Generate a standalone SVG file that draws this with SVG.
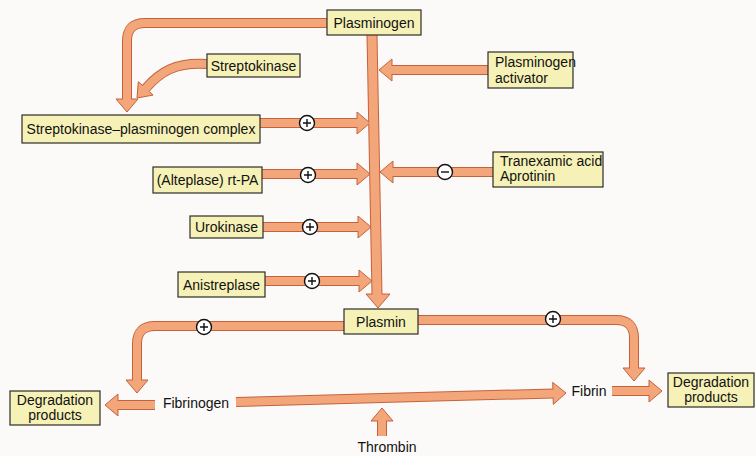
<svg xmlns="http://www.w3.org/2000/svg" width="756" height="456" viewBox="0 0 756 456">
  <style>
    .bg { fill: #fbfaf8; }
    .box { fill: #f6f1b6; stroke: #2e2e26; stroke-width: 1.2; }
    .lbl { font-family: "Liberation Sans", Arial, sans-serif; font-size: 14px; fill: #111; }
    .c { text-anchor: middle; }
    .sh-o { fill: none; stroke: #c5623c; stroke-width: 10; stroke-linejoin: round; }
    .sh-i { fill: none; stroke: #f3a67a; stroke-width: 8; stroke-linejoin: round; }
    .head { fill: #f3a67a; stroke: #c5623c; stroke-width: 1; stroke-linejoin: miter; }
    .sign { fill: #ffffff; stroke: #111; stroke-width: 1.4; }
    .sym { fill: none; stroke: #111; stroke-width: 1.4; }
  </style>
  <rect class="bg" x="0" y="0" width="756" height="456"/>

  <!-- connectors: outlined shafts, heads, then inner fill over the joins -->
  <g id="connectors">
    <g class="outer">
      <path class="sh-o" d="M327,23 H145 Q127,23 127,41 V100"/>
      <path class="sh-o" d="M207,64 C175,62 160,72 146,88"/>
      <path class="sh-o" d="M488,70 H391"/>
      <path class="sh-o" d="M493,172 H392"/>
      <path class="sh-o" d="M260,123 H357"/>
      <path class="sh-o" d="M262,174 H357"/>
      <path class="sh-o" d="M263,227 H358"/>
      <path class="sh-o" d="M265,281 H359"/>
      <path class="sh-o" d="M372,35 L377,295" style="stroke-width:11"/>
      <path class="sh-o" d="M344,326 H155 Q137,326 137,344 V381"/>
      <path class="sh-o" d="M418,320 H616 Q634,320 634,338 V369"/>
      <path class="sh-o" d="M155,405 H117"/>
      <path class="sh-o" d="M236,402 L554,393.4"/>
      <path class="sh-o" d="M612,391 H649"/>
      <path class="sh-o" d="M382,436 V420"/>
    </g>
    <g class="heads">
      <polygon class="head" points="116,99 138,99 127,112"/>
      <polygon class="head" points="153.1,95.1 138.3,81.7 137,98"/>
      <polygon class="head" points="392,59 392,81 379,70"/>
      <polygon class="head" points="393,161 393,183 380,172"/>
      <polygon class="head" points="357,112 357,134 370,123"/>
      <polygon class="head" points="357,163 357,185 370,174"/>
      <polygon class="head" points="358,216 358,238 371,227"/>
      <polygon class="head" points="359,270 359,292 372,281"/>
      <polygon class="head" points="366,294 390,294 378,308"/>
      <polygon class="head" points="126,380 148,380 137,393"/>
      <polygon class="head" points="623,368 645,368 634,381"/>
      <polygon class="head" points="118,394 118,416 105,405"/>
      <polygon class="head" points="553.3,404.4 552.7,382.4 566,393"/>
      <polygon class="head" points="649,380 649,402 662,391"/>
      <polygon class="head" points="371,421 393,421 382,408"/>
    </g>
    <g class="inner">
      <path class="sh-i" d="M327,23 H145 Q127,23 127,41 V101"/>
      <path class="sh-i" d="M207,64 C175,62 160,72 145.2,89"/>
      <path class="sh-i" d="M488,70 H390"/>
      <path class="sh-i" d="M493,172 H391"/>
      <path class="sh-i" d="M260,123 H358"/>
      <path class="sh-i" d="M262,174 H358"/>
      <path class="sh-i" d="M263,227 H359"/>
      <path class="sh-i" d="M265,281 H360"/>
      <path class="sh-i" d="M372,35 L377.04,296" style="stroke-width:9"/>
      <path class="sh-i" d="M344,326 H155 Q137,326 137,344 V382"/>
      <path class="sh-i" d="M418,320 H616 Q634,320 634,338 V370"/>
      <path class="sh-i" d="M155,405 H116"/>
      <path class="sh-i" d="M236,402 L555,393.4"/>
      <path class="sh-i" d="M612,391 H650"/>
      <path class="sh-i" d="M382,436 V419"/>
    </g>
    <!-- activation (+) and inhibition (−) markers -->
    <g class="signs">
      <g transform="translate(307,123)"><circle class="sign" r="7.5"/><path class="sym" d="M-4,0 H4 M0,-4 V4"/></g>
      <g transform="translate(308,175)"><circle class="sign" r="7.5"/><path class="sym" d="M-4,0 H4 M0,-4 V4"/></g>
      <g transform="translate(310,227)"><circle class="sign" r="7.5"/><path class="sym" d="M-4,0 H4 M0,-4 V4"/></g>
      <g transform="translate(312,281)"><circle class="sign" r="7.5"/><path class="sym" d="M-4,0 H4 M0,-4 V4"/></g>
      <g transform="translate(204,327)"><circle class="sign" r="7.5"/><path class="sym" d="M-4,0 H4 M0,-4 V4"/></g>
      <g transform="translate(553,319)"><circle class="sign" r="7.5"/><path class="sym" d="M-4,0 H4 M0,-4 V4"/></g>
      <g transform="translate(445,172)"><circle class="sign" r="7.5"/><path class="sym" d="M-4,0 H4"/></g>
    </g>
  </g>

  <g id="plasminogen">
    <rect class="box" x="327" y="10" width="94" height="25"/>
    <text class="lbl c" x="374" y="28">Plasminogen</text>
  </g>
  <g id="streptokinase">
    <rect class="box" x="207" y="54" width="93" height="23"/>
    <text class="lbl c" x="253.5" y="70.5">Streptokinase</text>
  </g>
  <g id="plasminogen-activator">
    <rect class="box" x="488" y="52" width="85" height="36"/>
    <text class="lbl" x="495" y="67">Plasminogen</text>
    <text class="lbl" x="495" y="83">activator</text>
  </g>
  <g id="sk-complex">
    <rect class="box" x="22" y="115" width="238" height="28"/>
    <text class="lbl c" x="141" y="134">Streptokinase–plasminogen complex</text>
  </g>
  <g id="alteplase">
    <rect class="box" x="153" y="167" width="109" height="26"/>
    <text class="lbl c" x="207.5" y="185">(Alteplase) rt-PA</text>
  </g>
  <g id="antifibrinolytics">
    <rect class="box" x="493" y="152" width="110" height="35"/>
    <text class="lbl" x="500" y="166">Tranexamic acid</text>
    <text class="lbl" x="500" y="181">Aprotinin</text>
  </g>
  <g id="urokinase">
    <rect class="box" x="190" y="216" width="73" height="22"/>
    <text class="lbl c" x="226.5" y="232">Urokinase</text>
  </g>
  <g id="anistreplase">
    <rect class="box" x="178" y="272" width="87" height="25"/>
    <text class="lbl c" x="221.5" y="290">Anistreplase</text>
  </g>
  <g id="plasmin">
    <rect class="box" x="344" y="309" width="74" height="25"/>
    <text class="lbl c" x="381" y="327">Plasmin</text>
  </g>
  <g id="degradation-left">
    <rect class="box" x="10" y="391" width="90" height="34"/>
    <text class="lbl c" x="55" y="405">Degradation</text>
    <text class="lbl c" x="55" y="420">products</text>
  </g>
  <g id="degradation-right">
    <rect class="box" x="668" y="373" width="86" height="34"/>
    <text class="lbl c" x="711" y="387">Degradation</text>
    <text class="lbl c" x="711" y="402">products</text>
  </g>
  <g id="fibrinogen">
    <text class="lbl c" x="196" y="408">Fibrinogen</text>
  </g>
  <g id="fibrin">
    <text class="lbl c" x="589" y="396">Fibrin</text>
  </g>
  <g id="thrombin">
    <text class="lbl c" x="387" y="452">Thrombin</text>
  </g>
</svg>
